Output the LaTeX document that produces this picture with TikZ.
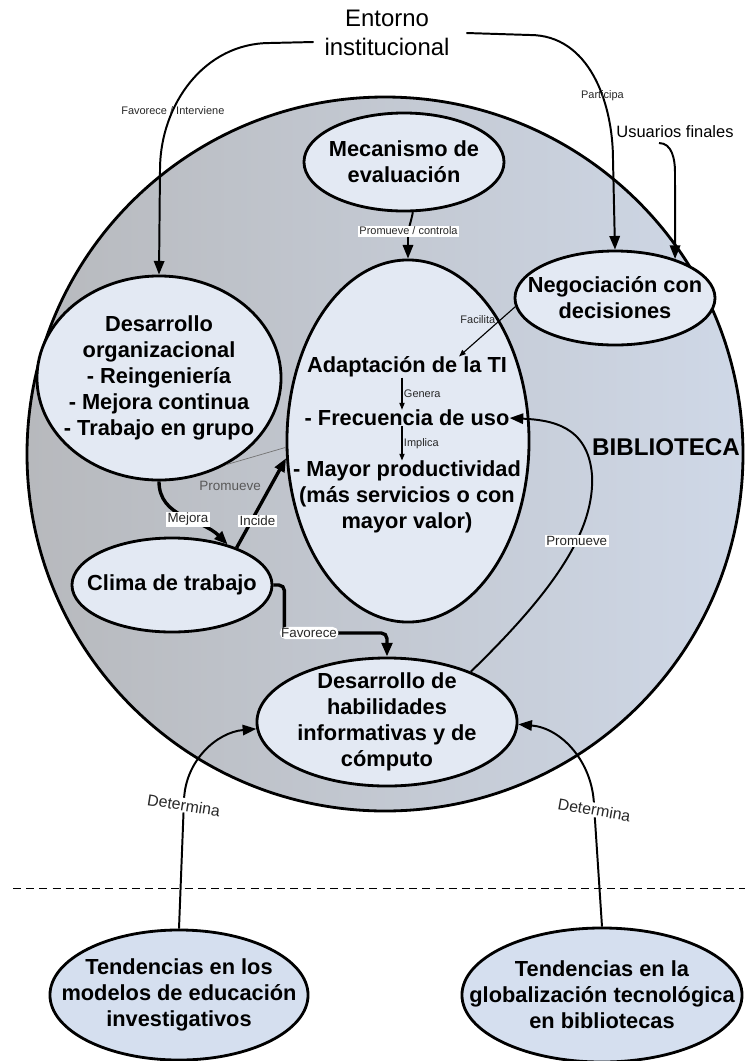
\documentclass[tikz,border=0pt]{standalone}
\usepackage{fontspec}
\setmainfont{Liberation Sans}
\usetikzlibrary{shapes.geometric,arrows.meta}

\definecolor{bibgray}{RGB}{183,185,189}
\definecolor{bibblue}{RGB}{207,216,231}
\definecolor{blobfill}{RGB}{227,233,243}
\definecolor{trendfill}{RGB}{213,223,239}
\definecolor{tagtext}{RGB}{40,40,40}

\begin{document}
\begin{tikzpicture}[x=0.025cm, y=-0.025cm,
    >={Triangle[length=3.4mm,width=2.6mm]},
    blob/.style={ellipse, draw, line width=2pt, fill=blobfill, inner sep=-1cm, align=center,
      font=\fontsize{15.5}{18.5}\selectfont\bfseries},
    trend/.style={blob, fill=trendfill},
    adapttext/.style={align=center, inner sep=0pt, font=\fontsize{15.5}{18.5}\selectfont\bfseries},
    conn/.style={->, line width=1.4pt},
    heavy/.style={->, line width=2.4pt},
    fine/.style={-{Triangle[length=1.7mm,width=1.3mm]}, line width=0.8pt},
    tag/.style={font=\fontsize{7.8}{9}\selectfont, text=tagtext, inner sep=1pt},
    midtag/.style={font=\fontsize{9.5}{11}\selectfont, text=tagtext, fill=white, inner sep=1pt},
    dettag/.style={font=\fontsize{11.3}{13}\selectfont, text=tagtext, fill=white, inner sep=1pt}]
  \useasboundingbox (0,0) rectangle (745,1061);

  % Library area
  \draw[line width=2pt, left color=bibgray, right color=bibblue] (385,454) ellipse (358 and 357);
  \node[font=\fontsize{17.2}{20}\selectfont\bfseries] (biblio) at (666,447) {BIBLIOTECA};

  % Separator
  \draw[line width=0.7pt, dash pattern=on 0.2cm off 0.13cm] (13,888) -- (745,888);

  % Outside actors
  \node[align=center, font=\fontsize{17}{20.6}\selectfont] (entorno) at (387,33) {Entorno\\institucional};
  \node[font=\fontsize{11.7}{14}\selectfont] (usuarios) at (675,132) {Usuarios finales};

  % Inner nodes
  \node[blob, minimum width=5cm, minimum height=2.45cm] (meca) at (404,162) {Mecanismo de\\evaluación};
  \node[blob, minimum width=5cm, minimum height=2.35cm] (negoc) at (615,298) {Negociación con\\decisiones};
  \node[blob, minimum width=6.1cm, minimum height=5.1cm] (desorg) at (159,378)
    {Desarrollo\\organizacional\\- Reingeniería\\- Mejora continua\\- Trabajo en grupo};
  \node[blob, minimum width=6.05cm, minimum height=9.05cm] (adapt) at (408,441) {};
  \node[adapttext] (ti) at (407,367) {Adaptación de la TI};
  \node[adapttext] (frec) at (407,418) {- Frecuencia de uso};
  \node[adapttext] (prod) at (407,497) {- Mayor productividad\\(más servicios o con\\mayor valor)};
  \node[blob, minimum width=5cm, minimum height=2.35cm] (clima) at (172,585) {Clima de trabajo};
  \node[blob, minimum width=6.5cm, minimum height=3.2cm] (habil) at (387,722)
    {Desarrollo de\\habilidades\\informativas y de\\cómputo};

  % Outer trends
  \node[trend, minimum width=6.45cm, minimum height=3.25cm] (tendL) at (179,995)
    {Tendencias en los\\modelos de educación\\investigativos};
  \node[trend, minimum width=7cm, minimum height=3.35cm] (tendR) at (602,995)
    {Tendencias en la\\globalización tecnológica\\en bibliotecas};

  % Connections from outside
  \draw[conn] ([shift={(-6,9)}]entorno.west) -- (270,43)
    to[out=180,in=90] node[tag, pos=0.68] {Favorece / Interviene} (160,170) -- (desorg.north);
  \draw[conn] ([shift={(12,0)}]entorno.east) -- (530,35)
    to[out=0,in=90] node[tag, pos=0.63] {Participa} (613,160) -- (negoc.north);
  \draw[conn] ([shift={(-16,0)}]usuarios.south) to[out=0,in=90] (675,172) -- (negoc.33);

  % Connections inside
  \draw[conn] (meca.-80) to[out=-100,in=90] node[tag, fill=white, pos=0.75] {Promueve / controla} (408,238)
    -- (adapt.north);
  \draw[fine] (negoc.185) -- node[tag, pos=0.25, left, xshift=-1mm] {Facilita} ([xshift=1.3cm]ti.north);
  \draw[fine] ([xshift=-1.25mm]ti.south) -- node[tag, right] {Genera} ([xshift=-1.25mm]frec.north);
  \draw[fine] ([xshift=-1.25mm]frec.south) -- node[tag, right] {Implica} ([xshift=-1.25mm]prod.north);
  \draw[conn] (habil.31) .. controls (555,590) and (595,530) .. (592,475) node[midtag, pos=0.62] {Promueve}
    .. controls (588,425) and (550,420) .. (frec.east);
  \draw[line width=0.5pt, draw=black!55] (desorg.-52) -- (adapt.183)
    node[pos=0.06, below=4mm, font=\fontsize{9.6}{11}\selectfont, text=black!65, inner sep=1pt] {Promueve};
  \draw[heavy] (desorg.south) to[out=-90,in=135] node[midtag, pos=0.55] {Mejora} (clima.36);
  \draw[heavy] (clima.30) -- node[midtag, pos=0.3, xshift=1.5mm] {Incide} (adapt.188);
  \draw[heavy, rounded corners=4pt] (clima.east) -- ++(11,0) -- ++(0,48) -| (habil.north)
    node[midtag, pos=0.12] {Favorece};

  % Trends
  \draw[conn] (tendL.north) -- (184,800) node[dettag, pos=0.96, rotate=-9] {Determina}
    to[out=88,in=185] (habil.183);
  \draw[conn] (tendR.north) -- (594,805) node[dettag, pos=0.96, rotate=-10] {Determina}
    to[out=92,in=-5] (habil.-1);
\end{tikzpicture}
\end{document}
